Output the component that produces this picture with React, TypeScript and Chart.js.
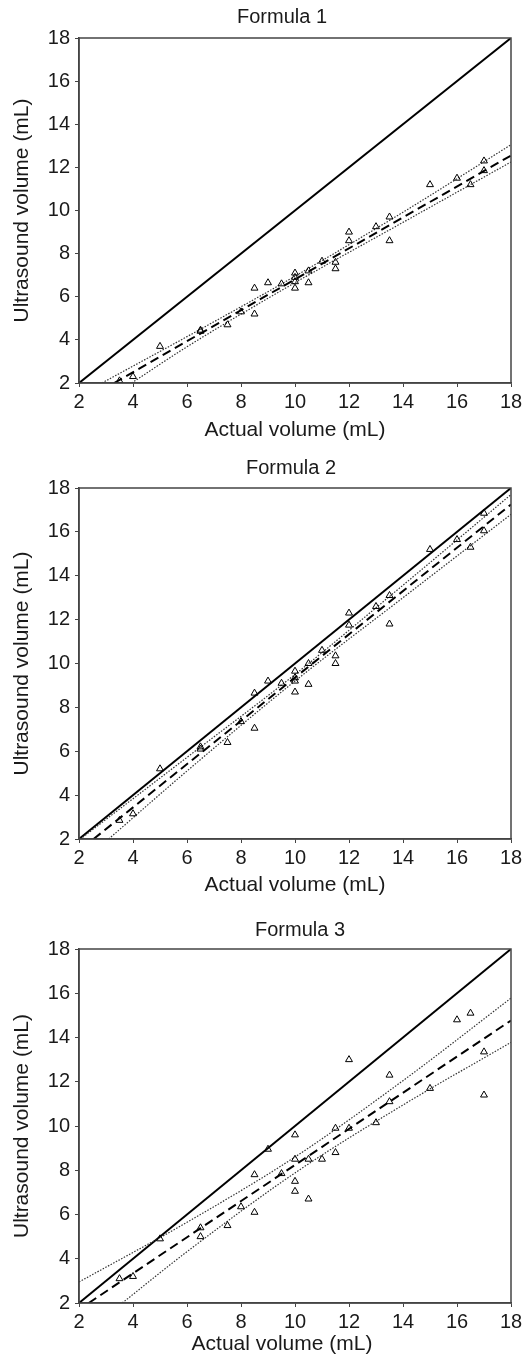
import React, { useEffect, useRef } from 'react';
import { Chart, registerables } from 'chart.js';

Chart.register(...registerables);

// ---------- data ----------
const panelTitles = ['Formula 1', 'Formula 2', 'Formula 3'];
const xAxisTitle = 'Actual volume (mL)';
const yAxisTitle = 'Ultrasound volume (mL)';
const axisTicks = [2, 4, 6, 8, 10, 12, 14, 16, 18];

const actualVolume = [3.5, 4, 5, 6.5, 6.5, 7.5, 8, 8.5, 8.5, 9, 9.5, 10, 10, 10, 10, 10.5, 10.5, 11, 11.5, 11.5, 12, 12, 13, 13.5, 13.5, 15, 16, 16.5, 17, 17];
const usFormula1 = [2.1, 2.3, 3.7, 4.45, 4.4, 4.7, 5.3, 6.4, 5.2, 6.65, 6.6, 7.1, 6.9, 6.7, 6.4, 7.2, 6.65, 7.65, 7.6, 7.3, 9.0, 8.6, 9.25, 9.7, 8.6, 11.2, 11.5, 11.2, 12.3, 11.85];
const usFormula2 = [2.85, 3.15, 5.2, 6.2, 6.1, 6.4, 7.35, 8.65, 7.05, 9.2, 9.1, 9.65, 9.35, 9.2, 8.7, 10.0, 9.05, 10.6, 10.35, 10.0, 12.3, 11.75, 12.6, 13.1, 11.8, 15.2, 15.65, 15.3, 16.85, 16.05];
const usFormula3 = [3.1, 3.2, 4.9, 5.4, 5.0, 5.5, 6.35, 7.8, 6.1, 8.95, 7.85, 9.6, 8.5, 7.5, 7.05, 8.5, 6.7, 8.5, 9.9, 8.8, 13.0, 9.9, 10.15, 12.3, 11.1, 11.7, 14.8, 15.1, 13.35, 11.4];

const identityX = [2, 18];
const identityY = [2, 18];

const regX1 = [3.3, 18];
const regY1 = [2.0, 12.55];
const ciUpX1 = [2.85, 6, 10, 14, 18];
const ciUpY1 = [2.0, 4.15, 6.95, 9.92, 13.05];
const ciLoX1 = [3.95, 6, 10, 14, 18];
const ciLoY1 = [2.0, 3.68, 6.65, 9.45, 12.25];

const regX2 = [2.54, 18];
const regY2 = [2.0, 17.25];
const ciUpX2 = [2.05, 6, 10, 14, 18];
const ciUpY2 = [2.0, 5.72, 9.5, 13.57, 17.7];
const ciLoX2 = [3.1, 6, 10, 14, 18];
const ciLoY2 = [2.0, 5.1, 9.2, 13.0, 16.8];

const regX3 = [2.36, 18];
const regY3 = [2.0, 14.77];
const ciUpX3 = [2, 6, 10, 14, 18];
const ciUpY3 = [2.95, 5.65, 8.6, 12.05, 15.78];
const ciLoX3 = [3.6, 6, 10, 14, 18];
const ciLoY3 = [2.0, 4.32, 7.88, 10.95, 13.78];

const usSeries = [usFormula1, usFormula2, usFormula3];
const regXs = [regX1, regX2, regX3];
const regYs = [regY1, regY2, regY3];
const ciUpXs = [ciUpX1, ciUpX2, ciUpX3];
const ciUpYs = [ciUpY1, ciUpY2, ciUpY3];
const ciLoXs = [ciLoX1, ciLoX2, ciLoX3];
const ciLoYs = [ciLoY1, ciLoY2, ciLoY3];

// ---------- layout ----------
const FONT = 'Arial, "Liberation Sans", Helvetica, sans-serif';
const TEXT = '#1a1a1a';
const FRAME = '#444';
const W = 528;
const PLOT_LEFT = 79;
const PLOT_RIGHT = 511;

const panels = [
  { titleY: 17, plotTop: 38, plotBottom: 383, xTitleY: 430, titleDx: -13, xTitleDx: 0 },
  { titleY: 468, plotTop: 488, plotBottom: 839, xTitleY: 885, titleDx: -4, xTitleDx: 0 },
  { titleY: 930, plotTop: 949, plotBottom: 1303, xTitleY: 1344, titleDx: 5, xTitleDx: -13 },
];

const zip = (xs: number[], ys: number[]) => xs.map((x, i) => ({ x, y: ys[i] }));

const framePlugin = {
  id: 'frame',
  afterDatasetsDraw(chart: any) {
    const { ctx, chartArea: a } = chart;
    ctx.save();
    ctx.strokeStyle = FRAME;
    ctx.lineWidth = 1.5;
    ctx.strokeRect(a.left, a.top, a.right - a.left, a.bottom - a.top);
    ctx.restore();
  },
};

// nudges the chart title and the x-axis title horizontally
const titleShiftPlugin = {
  id: 'titleShift',
  afterLayout(chart: any, _args: any, opts: any) {
    const tb = chart.titleBlock;
    if (tb && opts.titleDx) {
      tb.left += opts.titleDx;
      tb.right += opts.titleDx;
    }
    const xs = chart.scales.x;
    if (xs && opts.xTitleDx && !xs.__shifted) {
      const orig = Object.getPrototypeOf(xs).drawTitle;
      xs.drawTitle = function () {
        const c = this.ctx;
        c.save();
        c.translate(opts.xTitleDx, 0);
        orig.call(this);
        c.restore();
      };
      xs.__shifted = true;
    }
  },
};

function Panel({ idx }: { idx: number }) {
  const ref = useRef<HTMLCanvasElement | null>(null);
  const p = panels[idx];
  const canvasTop = p.titleY - 15;
  const titlePadBottom = p.plotTop - canvasTop - 27;
  const xAxisH = Math.round(p.xTitleY - p.plotBottom + 12.6 + 2);
  const height = p.plotBottom + xAxisH - canvasTop;

  useEffect(() => {
    if (!ref.current) return;
    const tickCfg = (pad: number) => ({
      color: TEXT,
      font: { family: FONT, size: 20 },
      padding: pad,
      autoSkip: false,
      maxRotation: 0,
    });
    const chart = new Chart(ref.current, {
      type: 'scatter',
      data: {
        datasets: [
          {
            data: zip(actualVolume, usSeries[idx]),
            pointStyle: 'triangle',
            pointRadius: 4,
            pointBorderWidth: 1,
            borderColor: '#000',
            backgroundColor: 'rgba(0,0,0,0)',
            showLine: false,
          },
          {
            data: zip(regXs[idx], regYs[idx]),
            showLine: true,
            borderColor: '#000',
            borderWidth: 2,
            borderDash: [9, 5],
            pointRadius: 0,
          },
          {
            data: zip(ciUpXs[idx], ciUpYs[idx]),
            showLine: true,
            borderColor: '#333',
            borderWidth: 1.2,
            borderDash: [1.5, 1.5],
            pointRadius: 0,
            cubicInterpolationMode: 'monotone',
          },
          {
            data: zip(ciLoXs[idx], ciLoYs[idx]),
            showLine: true,
            borderColor: '#333',
            borderWidth: 1.2,
            borderDash: [1.5, 1.5],
            pointRadius: 0,
            cubicInterpolationMode: 'monotone',
          },
          {
            data: zip(identityX, identityY),
            showLine: true,
            borderColor: '#000',
            borderWidth: 2,
            pointRadius: 0,
          },
        ],
      } as any,
      options: {
        animation: false,
        responsive: false,
        events: [],
        layout: { padding: { left: 0, right: W - PLOT_RIGHT, top: 0, bottom: 0 } },
        plugins: {
          legend: { display: false },
          tooltip: { enabled: false },
          titleShift: { titleDx: p.titleDx, xTitleDx: p.xTitleDx },
          title: {
            display: true,
            text: panelTitles[idx],
            fullSize: false,
            color: TEXT,
            font: { family: FONT, size: 20, weight: 'normal', lineHeight: 1.2 },
            padding: { top: 3, bottom: titlePadBottom },
          },
        },
        scales: {
          x: {
            type: 'linear',
            min: 2,
            max: 18,
            afterBuildTicks: (s: any) => {
              s.ticks = axisTicks.map((v) => ({ value: v }));
            },
            afterFit: (s: any) => {
              s.height = xAxisH;
            },
            ticks: tickCfg(3),
            grid: { display: true, drawOnChartArea: false, drawTicks: true, tickLength: 4, color: FRAME, lineWidth: 1 },
            border: { display: true, color: FRAME, width: 1.5 },
            title: {
              display: true,
              text: xAxisTitle,
              color: TEXT,
              font: { family: FONT, size: 21, lineHeight: 1.2 },
              padding: { top: 0, bottom: 2 },
            },
          },
          y: {
            type: 'linear',
            min: 2,
            max: 18,
            afterBuildTicks: (s: any) => {
              s.ticks = axisTicks.map((v) => ({ value: v }));
            },
            afterFit: (s: any) => {
              s.width = PLOT_LEFT;
            },
            ticks: tickCfg(5),
            grid: { display: true, drawOnChartArea: false, drawTicks: true, tickLength: 4, color: FRAME, lineWidth: 1 },
            border: { display: true, color: FRAME, width: 1.5 },
            title: {
              display: true,
              text: yAxisTitle,
              color: TEXT,
              font: { family: FONT, size: 21, lineHeight: 1.2 },
              padding: { top: 10, bottom: 0 },
            },
          },
        },
      } as any,
      plugins: [framePlugin, titleShiftPlugin],
    });
    return () => chart.destroy();
  }, [idx]);

  return (
    <canvas
      ref={ref}
      width={W}
      height={height}
      style={{ position: 'absolute', left: 0, top: canvasTop, width: W, height }}
    />
  );
}

export default function App() {
  return (
    <div style={{ position: 'absolute', left: 0, top: 0, width: W, height: 1368, background: '#fff', overflow: 'hidden' }}>
      <Panel idx={0} />
      <Panel idx={1} />
      <Panel idx={2} />
    </div>
  );
}
